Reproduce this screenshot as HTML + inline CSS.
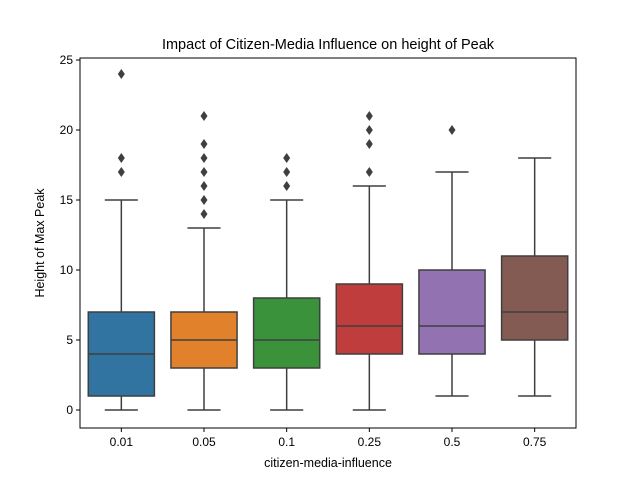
<!DOCTYPE html>
<html><head><meta charset="utf-8"><style>body{margin:0;background:#fff}svg{display:block;font-family:"Liberation Sans",sans-serif}</style></head>
<body>
<svg id="chart" width="640" height="480"></svg>
<script>
const categories=["0.01","0.05","0.1","0.25","0.5","0.75"];
const whiskLow=[0,0,0,0,1,1];
const q1=[1,3,3,4,4,5];
const medians=[4,5,5,6,6,7];
const q3=[7,7,8,9,10,11];
const whiskHigh=[15,13,15,16,17,18];
const outliers=[[17,18,24],[14,15,16,17,18,19,21],[16,17,18],[17,19,20,21],[20],[]];
const colors=["#3274a1","#e1812c","#3a923a","#c03d3e","#9372b2","#845b53"];
const yTicks=[0,5,10,15,20,25];
const L=80,R=576,T=58,B=428;
const NS="http://www.w3.org/2000/svg";
const svg=document.getElementById('chart');
const y=v=>410-v*14;
const step=(R-L)/categories.length;
const x=i=>L+step*(i+0.5);
function mk(tag,attrs,text){const e=document.createElementNS(NS,tag);for(const k in attrs)e.setAttribute(k,attrs[k]);if(text!==undefined)e.textContent=text;svg.appendChild(e);return e;}
const ln="#3f3f3f";
categories.forEach((c,i)=>{
 const cx=x(i),w=step*0.8;
 let e=mk('line',{x1:cx,x2:cx,y1:y(whiskLow[i]),y2:y(q1[i]),stroke:ln,'stroke-width':1.5});
 
 e=mk('line',{x1:cx,x2:cx,y1:y(q3[i]),y2:y(whiskHigh[i]),stroke:ln,'stroke-width':1.5});
 
 [whiskLow[i],whiskHigh[i]].forEach(v=>{const cap=mk('line',{x1:cx-w/4,x2:cx+w/4,y1:y(v),y2:y(v),stroke:ln,'stroke-width':1.5});
  });
 e=mk('rect',{x:cx-w/2,y:y(q3[i]),width:w,height:y(q1[i])-y(q3[i]),fill:colors[i],stroke:ln,'stroke-width':1.5});
 
 e=mk('line',{x1:cx-w/2,x2:cx+w/2,y1:y(medians[i]),y2:y(medians[i]),stroke:ln,'stroke-width':1.5});
 
 outliers[i].forEach(v=>{const py=y(v);const d=mk('polygon',{points:`${cx},${py-5} ${cx+3.5},${py} ${cx},${py+5} ${cx-3.5},${py}`,fill:ln});
  });
 const t=mk('line',{x1:cx,x2:cx,y1:B,y2:B+4,stroke:'#000'});
 const tl=mk('text',{x:cx,y:B+18,'text-anchor':'middle','font-size':12},c);
});
yTicks.forEach(v=>{
 const t=mk('line',{x1:L-4,x2:L,y1:y(v),y2:y(v),stroke:'#000'});
 const tl=mk('text',{x:L-7,y:y(v)+4,'text-anchor':'end','font-size':12},v);
});
let f=mk('rect',{x:L,y:T,width:R-L,height:B-T,fill:'none',stroke:'#000','stroke-width':1});

f=mk('text',{x:(L+R)/2,y:49,'text-anchor':'middle','font-size':14.5},'Impact of Citizen-Media Influence on height of Peak');

f=mk('text',{x:(L+R)/2,y:467,'text-anchor':'middle','font-size':12.5},'citizen-media-influence');

f=mk('text',{x:44,y:243,'text-anchor':'middle','font-size':12.5,transform:'rotate(-90 44 243)'},'Height of Max Peak');

</script>
</body></html>
